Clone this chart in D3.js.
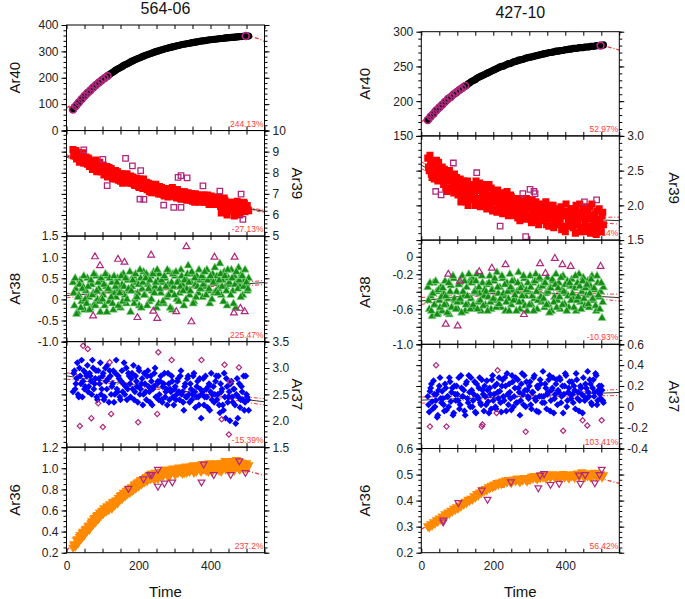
<!DOCTYPE html>
<html><head><meta charset="utf-8">
<script src="https://cdn.jsdelivr.net/npm/d3@7"></script>
<style>body{margin:0;background:#fff}svg{display:block}text{font-family:"Liberation Sans",Arial,Helvetica,sans-serif}</style>
</head><body><script>
// ---------- DATA ----------
const sampleNames = ["564-06", "427-10"];
const isotopes = ["Ar40", "Ar39", "Ar38", "Ar37", "Ar36"];
const timeTicks = [0, 200, 400];
const times = [18,22,26,30,34,38,42,46,50,54,
58,62,66,70,74,78,82,86,90,94,
98,102,106,110,114,118,122,126,130,134,
138,142,146,150,154,158,162,166,170,174,
178,182,186,190,194,198,202,206,210,214,
218,222,226,230,234,238,242,246,250,254,
258,262,266,270,274,278,282,286,290,294,
298,302,306,310,314,318,322,326,330,334,
338,342,346,350,354,358,362,366,370,374,
378,382,386,390,394,398,402,406,410,414,
418,422,426,430,434,438,442,446,450,454,
458,462,466,470,474,478,482,486,490,494,
498,502,506];
const times2 = [20,24,28,32,36,40,44,48,52,56,
60,64,68,72,76,80,84,88,92,96,
100,104,108,112,116,120,124,128,132,136,
140,144,148,152,156,160,164,168,172,176,
180,184,188,192,196,200,204,208,212,216,
220,224,228,232,236,240,244,248,252,256,
260,264,268,272,276,280,284,288,292,296,
300,304,308,312,316,320,324,328,332,336,
340,344,348,352,356,360,364,368,372,376,
380,384,388,392,396,400,404,408,412,416,
420,424,428,432,436,440,444,448,452,456,
460,464,468,472,476,480,484,488,492,496,
500,504];
const fitTimes = [0,50,100,150,200,250,300,350,400,450,500,550];

// 564-06
const L_Ar40 = [80,87,93,100,106,113,119,125,131,136,
142,147,152,158,163,168,173,177,182,186,
191,195,199,203,207,211,215,219,222,226,
230,233,236,239,242,246,249,251,254,257,
260,263,265,268,270,273,275,277,280,282,
284,286,288,290,292,294,296,298,300,301,
303,305,306,308,310,311,313,314,315,317,
318,319,321,322,323,325,326,327,328,329,
330,331,332,333,334,335,336,337,338,339,
340,340,341,342,343,344,344,345,346,346,
347,348,348,349,349,350,351,351,352,352,
353,353,354,354,355,355,356,356,357,357,
358,358,358];
const L_Ar40_outT = [18,26,34,42,50,58,66,74,82,90,98,106,114,498];
const L_Ar40_outV = [80,93,106,119,131,142,152,163,173,182,191,199,207,358];
const L_Ar40_fit = [85,134,190,238,273,299,318,333,344,352,358,338];

const L_Ar39 = [9.10,8.85,9.05,8.70,8.95,8.80,8.60,8.90,8.55,8.75,
8.40,8.65,8.30,8.55,8.20,8.45,8.60,8.10,8.35,8.25,
8.05,8.35,7.95,8.15,7.80,8.25,7.90,8.10,7.75,8.00,
7.70,8.05,7.85,7.60,7.95,7.75,7.90,7.55,7.80,7.65,
7.85,7.50,7.65,7.40,7.75,7.55,7.30,7.60,7.45,7.70,
7.25,7.55,7.35,7.10,7.45,7.20,7.40,7.05,7.30,7.15,
7.35,7.00,7.20,6.95,7.25,7.05,6.85,7.15,6.95,7.30,
6.90,7.15,6.80,7.05,6.95,6.75,7.10,6.85,7.00,6.70,
7.05,6.80,6.95,6.65,6.90,7.00,6.75,6.85,6.60,6.95,
6.70,6.95,6.60,6.85,6.75,6.55,6.90,6.65,6.80,6.50,
6.75,6.50,6.70,6.10,6.60,6.80,6.45,6.00,6.35,6.55,
6.60,6.30,5.95,6.20,6.65,6.40,6.05,6.45,6.25,6.55,
6.30,6.45,6.20];
const L_Ar39b = [8.80,9.00,8.65,8.90,8.50,8.75,8.95,8.45,8.70,8.50,
8.70,8.30,8.50,8.15,8.45,8.25,8.05,8.40,8.50,8.05,
8.25,7.90,8.10,8.30,7.85,8.00,8.20,7.70,7.95,8.10,
7.85,7.65,7.95,7.75,7.50,7.85,7.60,7.95,7.70,7.50,
7.60,7.80,7.45,7.65,7.50,7.35,7.70,7.55,7.25,7.50,
7.40,7.20,7.50,7.30,7.05,7.35,7.15,7.45,7.25,7.00,
7.10,7.30,7.05,6.90,7.15,7.25,6.95,7.05,7.20,6.90,
7.05,6.85,7.20,6.95,6.80,7.00,6.90,7.10,6.75,6.95,
6.85,6.70,7.00,6.90,6.60,6.80,6.95,6.70,6.90,6.75,
6.85,6.60,6.75,6.95,6.50,6.70,6.80,6.55,6.70,6.85,
6.55,6.85,6.40,6.65,6.30,6.70,6.50,6.20,6.60,6.45,
6.40,6.50,6.10,6.55,6.35,6.00,6.50,6.30,6.60,6.15,
6.40,6.25];
const L_Ar39_outT = [48,101,113,164,183,206,204,215,270,298,310,318,335,318,379,426,485,490];
const L_Ar39_outV = [9.08,8.63,7.39,8.68,8.33,8.10,6.75,6.74,6.47,6.36,7.78,7.86,7.76,6.36,7.38,7.13,6.99,5.79];
const L_Ar39_fit = [8.80,8.48,8.18,7.86,7.56,7.28,7.03,6.82,6.64,6.47,6.32,6.17];
const L_Ar39_band = [0.06,0.04,0.03,0.03,0.02,0.02,0.02,0.02,0.03,0.03,0.04,0.06];

const L_Ar38 = [0.40,-0.15,0.25,-0.30,0.10,0.45,-0.05,0.30,-0.25,0.20,
0.50,0.05,-0.20,0.35,0.15,-0.10,0.55,0.00,0.25,-0.30,
0.45,0.10,-0.15,0.30,0.55,-0.05,0.20,0.40,-0.25,0.15,
0.05,0.50,0.25,-0.20,0.35,0.60,0.10,-0.10,0.45,0.20,
-0.30,0.30,0.55,0.00,0.40,0.15,-0.15,0.50,0.25,0.65,
0.10,0.60,0.35,-0.05,0.55,0.20,0.65,0.30,-0.20,0.45,
0.60,0.15,0.40,-0.10,0.50,0.05,0.35,0.65,0.20,-0.25,
0.30,0.55,0.00,0.45,0.15,0.70,0.35,-0.15,0.50,0.25,
0.80,0.10,0.40,0.60,-0.05,0.35,0.55,0.15,0.45,0.25,
0.05,0.50,0.30,0.70,0.20,-0.10,0.45,0.60,0.15,0.40,
0.55,0.25,0.85,0.10,0.45,0.65,0.30,-0.15,0.50,0.35,
0.70,0.20,0.55,-0.20,0.40,0.75,0.30,0.60,0.10,0.45,
0.35,0.20,0.50];
const L_Ar38b = [0.15,0.50,-0.35,0.05,0.35,-0.20,0.25,0.55,0.00,-0.10,
0.30,-0.25,0.45,0.10,0.60,-0.15,0.20,0.40,-0.05,0.50,
0.00,0.35,0.60,-0.30,0.25,0.50,0.05,-0.10,0.55,0.30,
0.40,-0.15,0.15,0.55,-0.05,0.30,0.50,0.00,0.25,0.65,
0.20,0.45,-0.10,0.60,0.05,0.35,0.70,-0.20,0.40,0.10,
0.50,-0.15,0.25,0.45,0.00,0.60,0.15,0.40,0.70,-0.10,
0.25,0.45,-0.05,0.55,0.30,0.70,0.10,-0.20,0.40,0.60,
0.10,0.65,0.40,-0.05,0.30,0.55,0.20,0.45,0.00,0.60,
0.40,0.20,0.65,-0.10,0.50,0.05,0.30,0.70,0.25,0.55,
0.35,0.65,0.10,0.45,0.25,0.55,0.00,0.40,0.75,0.20,
0.15,0.45,0.60,0.30,-0.05,0.55,0.20,0.70,0.40,0.10,
0.50,-0.10,0.35,0.65,0.25,0.45,0.05,0.55,0.30,0.70,
0.40,0.25];
const L_Ar38_outT = [79,93,143,161,235,333,411,467,74,197,241,252,305,347,465,483,495];
const L_Ar38_outV = [1.01,0.80,0.95,0.88,1.05,1.25,1.00,1.00,-0.39,-0.43,-0.28,-0.45,-0.29,-0.53,-0.32,-0.21,-0.29];
const L_Ar38_fit = [0.09,0.12,0.15,0.18,0.20,0.23,0.26,0.29,0.32,0.35,0.37,0.40];
const L_Ar38_band = [0.05,0.04,0.03,0.02,0.02,0.02,0.02,0.02,0.02,0.03,0.04,0.05];

const L_Ar37 = [2.55,2.95,2.70,3.10,2.45,2.85,3.15,2.75,2.60,2.90,
3.05,2.65,2.85,2.50,3.00,2.70,2.95,2.40,2.80,3.10,
2.60,2.90,2.45,2.75,3.05,2.35,2.85,2.65,2.95,2.50,
3.15,2.55,2.80,2.40,2.95,2.70,2.50,3.00,2.60,2.85,
2.45,2.90,3.05,2.55,2.75,2.35,2.95,2.60,2.80,2.50,
2.70,2.40,2.95,2.55,2.85,2.30,2.65,3.00,2.45,2.75,
2.50,2.85,2.35,2.70,2.45,2.60,2.90,2.40,2.55,2.75,
2.30,2.65,2.50,2.80,2.40,2.95,2.55,2.20,2.70,2.45,
2.85,2.35,2.60,2.50,2.90,2.25,2.65,2.45,2.80,2.05,
2.55,2.30,2.85,2.45,2.65,2.20,2.90,2.50,2.35,2.75,
2.40,2.85,2.15,2.55,2.30,2.90,2.05,2.65,2.45,2.00,
2.75,2.35,2.60,1.95,2.80,2.45,2.25,2.65,2.40,2.20,
2.85,2.45,2.20];
const L_Ar37b = [2.90,2.60,2.80,2.50,3.00,2.70,2.45,2.95,2.65,2.85,
2.55,2.90,2.75,3.15,2.60,2.80,2.45,2.95,2.70,2.50,
2.85,2.40,3.00,2.60,2.80,2.95,2.50,2.70,2.35,2.90,
2.60,2.85,2.45,2.75,2.55,3.10,2.65,2.40,2.90,2.70,
2.80,2.60,2.40,2.85,2.65,3.00,2.50,2.70,2.30,2.90,
2.55,2.85,2.65,2.35,2.75,2.60,2.90,2.45,2.70,2.40,
2.75,2.40,2.65,2.90,2.55,2.30,2.70,2.60,2.85,2.45,
2.60,2.40,2.75,2.55,2.85,2.50,2.35,2.65,2.45,2.80,
2.50,2.70,2.40,2.85,2.55,2.45,2.75,2.30,2.60,2.50,
2.80,2.45,2.60,2.25,2.70,2.55,2.40,2.65,2.50,2.85,
2.50,2.30,2.70,2.60,2.20,2.45,2.80,2.35,2.55,2.70,
2.45,2.60,2.30,2.50,2.05,2.70,2.40,2.55,2.85,2.35,
2.50,2.40];
const L_Ar37_outT = [46,59,255,292,375,120,439,479,454,88,124,252,69,37,101,199,431,451];
const L_Ar37_outV = [3.42,3.36,3.30,3.15,3.15,3.11,3.06,3.01,2.74,2.33,2.13,2.13,2.05,1.90,1.88,1.97,2.03,1.74];
const L_Ar37_fit = [2.85,2.80,2.76,2.71,2.67,2.63,2.58,2.54,2.49,2.45,2.40,2.36];
const L_Ar37_band = [0.06,0.05,0.04,0.03,0.03,0.03,0.03,0.03,0.03,0.04,0.05,0.06];

const L_Ar36 = [0.25,0.28,0.27,0.33,0.31,0.37,0.34,0.40,0.37,0.43,
0.41,0.46,0.44,0.50,0.47,0.53,0.50,0.56,0.53,0.58,
0.60,0.57,0.62,0.59,0.64,0.61,0.66,0.62,0.68,0.65,
0.70,0.67,0.72,0.74,0.71,0.77,0.74,0.79,0.76,0.80,
0.78,0.82,0.80,0.85,0.82,0.87,0.84,0.89,0.86,0.90,
0.88,0.92,0.90,0.94,0.91,0.95,0.92,0.96,0.93,0.90,
0.96,0.93,0.97,0.94,0.98,0.95,0.92,0.97,0.95,0.99,
0.97,0.94,0.99,0.96,1.00,0.97,0.95,1.01,0.98,0.96,
1.00,0.97,1.02,0.99,0.96,1.02,0.98,1.03,1.00,0.97,
1.02,0.99,1.04,1.00,0.97,1.03,1.01,0.98,1.04,1.00,
0.99,1.04,1.01,0.97,1.05,1.02,0.99,1.06,1.03,1.00,
1.07,1.01,0.98,1.04,1.02,1.06,0.99,1.03,1.05,1.01,
1.04,1.00,1.03];
const L_Ar36b = [0.28,0.26,0.32,0.29,0.35,0.33,0.39,0.36,0.42,0.40,
0.45,0.42,0.48,0.46,0.52,0.49,0.55,0.52,0.58,0.55,
0.58,0.62,0.60,0.64,0.61,0.66,0.63,0.68,0.65,0.69,
0.68,0.72,0.70,0.75,0.72,0.76,0.74,0.78,0.80,0.77,
0.82,0.79,0.84,0.81,0.86,0.83,0.88,0.85,0.89,0.87,
0.91,0.88,0.93,0.90,0.95,0.92,0.89,0.94,0.91,0.96,
0.94,0.97,0.93,0.96,0.99,0.95,0.98,0.94,0.97,1.00,
0.95,0.99,0.96,1.01,0.97,1.00,0.98,0.96,1.02,0.99,
0.98,1.01,0.99,1.03,1.00,0.97,1.02,1.00,0.98,1.04,
1.00,1.03,0.98,1.02,1.05,1.00,0.97,1.03,1.01,1.05,
1.02,0.98,1.05,1.01,1.03,1.07,1.00,1.04,0.98,1.05,
1.02,1.05,1.00,1.08,1.03,0.99,1.06,1.02,1.04,1.00,
1.05,1.02];
const L_Ar36_outT = [172,214,232,237,254,254,272,294,375,381,409,456,480,497];
const L_Ar36_outV = [0.81,0.90,0.94,0.94,0.99,0.83,0.86,0.87,0.87,1.04,0.94,0.94,1.07,0.96];
const L_Ar36_fit = [0.22,0.40,0.56,0.70,0.81,0.89,0.95,0.985,1.0,0.995,0.975,0.93];

// 427-10
const R_Ar40 = [173,175,178,180,182,185,187,189,191,193,
195,197,199,201,203,205,206,208,210,211,
213,215,216,218,219,221,222,223,225,226,
228,229,230,231,233,234,235,236,237,238,
239,240,241,242,243,244,245,246,247,248,
249,250,250,251,252,253,254,254,255,256,
257,257,258,259,259,260,260,261,262,262,
263,263,264,264,265,265,266,266,267,267,
268,268,269,269,270,270,270,271,271,272,
272,272,273,273,273,274,274,274,275,275,
275,276,276,276,276,277,277,277,277,278,
278,278,278,279,279,279,279,280,280,280,
280,280,281];
const R_Ar40_outT = [18,26,34,42,50,58,66,74,82,90,98,106,114,122,498];
const R_Ar40_outV = [173,178,182,187,191,195,199,203,206,210,213,216,219,222,280];
const R_Ar40_fit = [170,191,213,231,245,256,264,271,276,279,279,273.5];

const R_Ar39 = [2.68,2.50,2.62,2.40,2.58,2.45,2.65,2.35,2.52,2.42,
2.55,2.30,2.45,2.20,2.38,2.50,2.25,2.40,2.18,2.33,
2.40,2.15,2.30,2.05,2.25,2.35,2.12,2.28,2.00,2.22,
2.30,2.08,2.20,2.00,2.25,2.10,2.32,2.02,2.18,2.05,
2.20,1.95,2.12,2.00,2.25,1.92,2.15,2.05,1.90,2.18,
1.95,2.15,1.88,2.08,1.98,2.20,1.85,2.02,2.12,1.90,
2.10,1.85,2.00,1.92,1.78,2.05,1.88,1.98,1.80,2.08,
1.85,2.00,1.75,1.95,1.82,2.05,1.90,1.72,1.98,1.85,
1.95,1.78,2.05,1.82,1.70,1.92,1.85,2.00,1.75,1.88,
1.72,1.95,1.80,1.65,1.90,1.85,2.02,1.70,1.88,1.78,
1.95,1.68,1.85,2.00,1.72,1.90,1.62,1.82,1.98,1.75,
1.65,1.92,1.80,1.60,2.02,1.70,1.88,1.58,1.78,1.95,
1.68,1.85,1.72];
const R_Ar39b = [2.55,2.72,2.45,2.60,2.38,2.55,2.48,2.62,2.42,2.50,
2.40,2.52,2.25,2.48,2.35,2.22,2.42,2.30,2.45,2.20,
2.28,2.18,2.38,2.10,2.32,2.20,2.05,2.35,2.15,2.25,
2.12,2.28,2.15,2.35,2.05,2.22,1.98,2.25,2.10,2.30,
2.05,2.15,2.30,1.98,2.10,2.20,1.95,2.08,2.22,2.00,
2.10,1.92,2.05,2.18,1.95,2.08,1.88,2.15,1.98,2.05,
1.92,2.05,1.82,2.10,1.95,1.85,2.02,1.90,2.10,1.84,
1.95,1.80,2.08,1.88,1.98,1.78,1.92,2.02,1.82,1.95,
1.85,1.98,1.72,1.90,2.00,1.80,1.95,1.68,1.90,1.82,
1.92,1.78,1.98,1.70,1.85,1.62,1.92,1.80,1.75,1.95,
1.80,1.90,1.60,1.78,1.88,2.02,1.68,1.85,1.62,1.92,
1.82,1.70,1.98,1.62,1.85,1.75,1.60,1.92,1.68,1.80,
1.62,1.90];
const R_Ar39_outT = [89,154,40,55,282,302,313,316,219,290,453,487];
const R_Ar39_outV = [2.61,2.47,2.20,2.15,2.17,2.23,2.20,2.17,1.70,1.55,2.05,2.08];
const R_Ar39_fit = [2.58,2.43,2.30,2.19,2.09,2.01,1.94,1.88,1.84,1.81,1.79,1.78];
const R_Ar39_band = [0.05,0.04,0.03,0.02,0.02,0.02,0.02,0.02,0.02,0.03,0.04,0.05];

const R_Ar38 = [-0.35,-0.60,-0.45,-0.68,-0.30,-0.55,-0.40,-0.65,-0.50,-0.35,
-0.62,-0.42,-0.28,-0.55,-0.48,-0.66,-0.33,-0.58,-0.25,-0.50,
-0.40,-0.60,-0.30,-0.52,-0.22,-0.45,-0.62,-0.35,-0.55,-0.28,
-0.48,-0.25,-0.58,-0.38,-0.20,-0.52,-0.42,-0.62,-0.30,-0.45,
-0.55,-0.32,-0.46,-0.22,-0.60,-0.38,-0.28,-0.50,-0.18,-0.42,
-0.35,-0.58,-0.25,-0.45,-0.62,-0.30,-0.48,-0.20,-0.55,-0.38,
-0.28,-0.50,-0.40,-0.18,-0.60,-0.33,-0.52,-0.25,-0.45,-0.62,
-0.40,-0.22,-0.55,-0.30,-0.48,-0.20,-0.60,-0.36,-0.26,-0.52,
-0.32,-0.58,-0.42,-0.24,-0.55,-0.35,-0.62,-0.28,-0.46,-0.20,
-0.50,-0.30,-0.60,-0.38,-0.22,-0.54,-0.42,-0.28,-0.58,-0.34,
-0.26,-0.48,-0.36,-0.62,-0.30,-0.20,-0.52,-0.40,-0.24,-0.56,
-0.44,-0.28,-0.58,-0.34,-0.22,-0.50,-0.38,-0.62,-0.30,-0.46,
-0.40,-0.70,-0.35];
const R_Ar38b = [-0.50,-0.30,-0.62,-0.42,-0.55,-0.28,-0.66,-0.38,-0.58,-0.46,
-0.36,-0.55,-0.45,-0.64,-0.30,-0.40,-0.58,-0.22,-0.48,-0.60,
-0.52,-0.32,-0.48,-0.64,-0.40,-0.28,-0.55,-0.45,-0.20,-0.60,
-0.30,-0.55,-0.40,-0.28,-0.60,-0.35,-0.50,-0.22,-0.56,-0.38,
-0.40,-0.62,-0.30,-0.52,-0.38,-0.48,-0.25,-0.58,-0.35,-0.54,
-0.48,-0.22,-0.42,-0.32,-0.52,-0.40,-0.62,-0.35,-0.28,-0.50,
-0.44,-0.62,-0.30,-0.52,-0.36,-0.45,-0.22,-0.56,-0.38,-0.30,
-0.55,-0.35,-0.45,-0.62,-0.28,-0.40,-0.50,-0.24,-0.46,-0.34,
-0.48,-0.30,-0.55,-0.40,-0.64,-0.36,-0.26,-0.52,-0.32,-0.58,
-0.36,-0.46,-0.24,-0.55,-0.40,-0.32,-0.62,-0.45,-0.30,-0.50,
-0.42,-0.58,-0.22,-0.50,-0.46,-0.34,-0.60,-0.28,-0.48,-0.36,
-0.32,-0.54,-0.42,-0.26,-0.48,-0.36,-0.56,-0.22,-0.44,-0.60,
-0.30,-0.52];
const R_Ar38_outT = [75,107,161,196,234,330,345,371,392,415,498,68,101,285];
const R_Ar38_outV = [-0.20,-0.28,-0.17,-0.13,-0.09,-0.08,-0.19,-0.02,-0.09,-0.11,-0.11,-0.77,-0.79,-0.66];
const R_Ar38_fit = [-0.505,-0.48,-0.455,-0.435,-0.42,-0.41,-0.41,-0.415,-0.425,-0.44,-0.455,-0.467];
const R_Ar38_band = [0.04,0.03,0.025,0.02,0.015,0.015,0.015,0.015,0.02,0.025,0.03,0.04];

const R_Ar37 = [0.10,-0.05,0.18,0.05,0.25,0.00,0.12,-0.08,0.20,0.08,
0.15,0.02,0.22,-0.03,0.10,0.28,0.05,0.18,-0.06,0.12,
0.20,0.06,-0.02,0.30,0.10,0.16,-0.08,0.24,0.04,0.14,
0.28,0.00,0.12,-0.05,0.22,0.08,0.28,0.02,0.16,-0.04,
0.10,0.25,0.05,0.18,-0.02,0.30,0.12,0.00,0.22,0.08,
0.15,-0.05,0.26,0.06,0.20,0.32,0.02,0.14,-0.03,0.24,
0.10,0.28,0.04,0.18,-0.08,0.22,0.12,0.30,0.00,0.16,
0.08,0.24,-0.02,0.14,0.30,0.06,0.20,-0.05,0.26,0.10,
0.34,0.04,0.18,0.12,0.26,-0.04,0.16,0.28,0.08,0.22,
0.02,0.14,0.26,0.10,-0.06,0.20,0.30,0.06,0.18,0.12,
0.24,0.04,0.16,0.32,0.08,-0.04,0.20,0.12,0.28,0.06,
0.18,0.34,0.10,0.22,0.02,0.26,0.14,0.30,0.06,0.20,
0.08,0.16,0.04];
const R_Ar37b = [0.02,0.15,0.22,-0.02,0.12,0.06,-0.10,0.16,0.28,0.04,
0.08,-0.04,0.18,0.10,0.00,0.24,0.14,-0.08,0.20,0.06,
0.12,0.28,0.02,0.18,0.10,-0.04,0.22,0.08,0.30,0.00,
0.16,0.06,0.24,-0.06,0.10,0.18,0.04,0.26,0.12,0.20,
0.02,0.16,-0.06,0.12,0.26,0.06,0.20,-0.02,0.14,0.28,
0.04,0.20,0.10,0.28,-0.04,0.12,0.22,0.08,0.30,0.00,
0.18,0.04,0.26,0.14,0.06,0.32,0.02,0.16,0.24,0.10,
0.20,0.02,0.14,0.28,0.08,-0.04,0.18,0.10,0.22,0.04,
0.10,0.22,-0.02,0.14,0.30,0.06,0.18,-0.06,0.12,0.26,
0.16,0.28,0.04,0.20,0.12,0.32,0.00,0.14,0.24,0.08,
0.12,0.20,-0.02,0.26,0.14,0.06,0.18,-0.06,0.10,0.22,
0.08,0.14,0.26,0.04,0.18,0.10,0.32,0.02,0.16,0.12,
0.20,0.06];
const R_Ar37_outT = [41,212,209,24,70,168,170,290,394,448,461,501];
const R_Ar37_outV = [0.40,0.35,-0.06,-0.19,-0.19,-0.19,-0.17,-0.24,-0.23,-0.13,-0.18,-0.13];
const R_Ar37_fit = [0.064,0.071,0.078,0.084,0.091,0.098,0.104,0.111,0.118,0.124,0.131,0.138];
const R_Ar37_band = [0.03,0.025,0.02,0.015,0.015,0.012,0.012,0.015,0.015,0.02,0.025,0.03];

const R_Ar36 = [0.302,0.298,0.310,0.305,0.318,0.312,0.325,0.320,0.332,0.328,
0.340,0.335,0.348,0.343,0.355,0.350,0.362,0.358,0.370,0.365,
0.375,0.370,0.382,0.378,0.390,0.385,0.396,0.392,0.404,0.400,
0.408,0.404,0.418,0.412,0.426,0.420,0.432,0.428,0.442,0.436,
0.445,0.440,0.452,0.448,0.458,0.452,0.463,0.458,0.468,0.462,
0.470,0.465,0.474,0.468,0.478,0.472,0.480,0.474,0.468,0.478,
0.482,0.475,0.486,0.478,0.472,0.484,0.478,0.488,0.480,0.474,
0.486,0.480,0.492,0.485,0.495,0.488,0.482,0.494,0.487,0.498,
0.490,0.497,0.485,0.494,0.500,0.488,0.496,0.502,0.490,0.498,
0.492,0.500,0.488,0.496,0.503,0.490,0.498,0.494,0.486,0.500,
0.494,0.502,0.488,0.498,0.505,0.492,0.500,0.510,0.495,0.490,
0.502,0.494,0.506,0.490,0.500,0.496,0.508,0.492,0.500,0.495,
0.502,0.490,0.498];
const R_Ar36_outT = [61,61,103,168,184,249,325,330,341,359,383,438,442,455,482,501,495];
const R_Ar36_outV = [0.325,0.318,0.392,0.44,0.405,0.472,0.449,0.498,0.504,0.462,0.466,0.498,0.466,0.50,0.468,0.52,0.50];
const R_Ar36_fit = [0.29,0.33,0.37,0.41,0.44,0.46,0.475,0.485,0.49,0.49,0.483,0.466];

// axis tick labels
const L_Ar40_ticks = [0,100,200,300,400];
const L_Ar39_ticks = [5,6,7,8,9,10];
const L_Ar38_ticks = [-1,-0.5,0,0.5,1,1.5];
const L_Ar37_ticks = [1.5,2,2.5,3,3.5];
const L_Ar36_ticks = [0.2,0.4,0.6,0.8,1.0,1.2];
const R_Ar40_ticks = [150,200,250,300];
const R_Ar39_ticks = [1.5,2,2.5,3];
const R_Ar38_ticks = [-1,-0.8,-0.6,-0.4,-0.2,0];
const R_Ar38_labels = [-1,-0.6,-0.2,0];
const R_Ar37_ticks = [-0.4,-0.2,0,0.2,0.4,0.6];
const R_Ar36_ticks = [0.2,0.3,0.4,0.5,0.6];
const L_pct = ["244.13%","-27.13%","225.47%","-15.39%","237.2%"];
const R_pct = ["52.97%","-32.14%","-10.93%","103.41%","56.42%"];

// ---------- STYLE ----------
const W = 685, H = 599;
const MAG = "#b0287e", FITRED = "#f23a3a";
const styles = {
  Ar40: {main:{type:d3.symbolCircle,size:40,rot:0,fill:"#000"}, out:{type:d3.symbolCircle,size:36,rot:0,fill:"none",stroke:MAG,sw:1.7}, black:false},
  Ar39: {main:{type:d3.symbolSquare,size:50,rot:0,fill:"#ff0000"}, out:{type:d3.symbolSquare,size:30,rot:0,fill:"none",stroke:MAG,sw:1.3}, black:true},
  Ar38: {main:{type:d3.symbolTriangle,size:29,rot:0,fill:"#168c16",stroke:"#8ad88a",sw:0.7}, out:{type:d3.symbolTriangle,size:20,rot:0,fill:"none",stroke:MAG,sw:1.2}, black:true},
  Ar37: {main:{type:d3.symbolSquare,size:24,rot:45,fill:"#0000ff"}, out:{type:d3.symbolSquare,size:14,rot:45,fill:"none",stroke:MAG,sw:1.2}, black:true},
  Ar36: {main:{type:d3.symbolTriangle,size:40,rot:180,fill:"#ff8a00"}, out:{type:d3.symbolTriangle,size:20,rot:180,fill:"none",stroke:MAG,sw:1.2}, black:false}
};

function mk(name, vals, vals2, outT, outV, fit, band, domain, ticks, labels, minor, side, fmt, pct) {
  return {name, vals, vals2, outT, outV, fit, band, domain, ticks, labels: labels || ticks, minor, side, fmt, pct};
}
const columns = [
  {name: sampleNames[0], x0: 66.5, x1: 264.5, top: 25, bottom: 552.7, titleY: 14, leftTitleX: 15, rightTitleX: 297,
   panels: [
    mk("Ar40", L_Ar40, null, L_Ar40_outT, L_Ar40_outV, L_Ar40_fit, null, [0,400], L_Ar40_ticks, null, 20, "left", "d", L_pct[0]),
    mk("Ar39", L_Ar39, L_Ar39b, L_Ar39_outT, L_Ar39_outV, L_Ar39_fit, L_Ar39_band, [5,10], L_Ar39_ticks, null, 0.2, "right", "d", L_pct[1]),
    mk("Ar38", L_Ar38, L_Ar38b, L_Ar38_outT, L_Ar38_outV, L_Ar38_fit, L_Ar38_band, [-1,1.5], L_Ar38_ticks, null, 0.1, "left", ".1f", L_pct[2]),
    mk("Ar37", L_Ar37, L_Ar37b, L_Ar37_outT, L_Ar37_outV, L_Ar37_fit, L_Ar37_band, [1.5,3.5], L_Ar37_ticks, null, 0.1, "right", ".1f", L_pct[3]),
    mk("Ar36", L_Ar36, L_Ar36b, L_Ar36_outT, L_Ar36_outV, L_Ar36_fit, null, [0.2,1.2], L_Ar36_ticks, null, 0.05, "left", ".1f", L_pct[4])
   ]},
  {name: sampleNames[1], x0: 421.3, x1: 619.3, top: 31.7, bottom: 552.7, titleY: 18, leftTitleX: 365, rightTitleX: 674,
   panels: [
    mk("Ar40", R_Ar40, null, R_Ar40_outT, R_Ar40_outV, R_Ar40_fit, null, [150,300], R_Ar40_ticks, null, 10, "left", "d", R_pct[0]),
    mk("Ar39", R_Ar39, R_Ar39b, R_Ar39_outT, R_Ar39_outV, R_Ar39_fit, R_Ar39_band, [1.5,3.0], R_Ar39_ticks, null, 0.1, "right", ".1f", R_pct[1]),
    mk("Ar38", R_Ar38, R_Ar38b, R_Ar38_outT, R_Ar38_outV, R_Ar38_fit, R_Ar38_band, [-1.0,0.19], R_Ar38_ticks, R_Ar38_labels, 0.05, "left", ".1f", R_pct[2]),
    mk("Ar37", R_Ar37, R_Ar37b, R_Ar37_outT, R_Ar37_outV, R_Ar37_fit, R_Ar37_band, [-0.4,0.6], R_Ar37_ticks, null, 0.05, "right", ".1f", R_pct[3]),
    mk("Ar36", R_Ar36, null, R_Ar36_outT, R_Ar36_outV, R_Ar36_fit, null, [0.2,0.6], R_Ar36_ticks, null, 0.02, "left", ".1f", R_pct[4])
   ]}
];

// ---------- DRAW ----------
const svg = d3.select("body").append("svg").attr("width", W).attr("height", H);
svg.append("rect").attr("width", W).attr("height", H).attr("fill", "#fff");

function fmtFactory(spec) {
  const f = d3.format(spec);
  return v => Math.abs(v) < 1e-9 ? "0" : f(v).replace("\u2212", "-");
}
function drawMarks(g, ts, vs, x, y, st) {
  const path = d3.symbol().type(st.type).size(st.size)();
  g.append("g").selectAll("path").data(vs.map((v, k) => [ts[k], v])).join("path")
    .attr("d", path)
    .attr("transform", d => `translate(${x(d[0])},${y(d[1])}) rotate(${st.rot})`)
    .attr("fill", st.fill).attr("stroke", st.stroke || "none").attr("stroke-width", st.sw || 0);
}
function styleAxis(sel) {
  sel.select(".domain").remove();
  sel.selectAll("line").attr("stroke", "#000").attr("stroke-width", 1);
  sel.selectAll("text").attr("font-size", 12).attr("fill", "#222")
    .attr("font-family", '"Liberation Sans", Arial, Helvetica, sans-serif');
}

columns.forEach((col, ci) => {
  const x = d3.scaleLinear().domain([0, 550]).range([col.x0, col.x1]);
  const ph = (col.bottom - col.top) / 5;
  svg.append("text").attr("x", (col.x0 + col.x1) / 2).attr("y", col.titleY)
    .attr("text-anchor", "middle").attr("font-size", 16).attr("fill", "#111").text(col.name);

  col.panels.forEach((p, i) => {
    const yt = col.top + i * ph, yb = yt + ph;
    const y = d3.scaleLinear().domain(p.domain).range([yb, yt]);
    const st = styles[p.name];
    const g = svg.append("g");
    const clipId = `clip${ci}_${i}`;
    svg.append("clipPath").attr("id", clipId).append("rect")
      .attr("x", col.x0).attr("y", yt).attr("width", col.x1 - col.x0).attr("height", ph);

    g.append("text").attr("x", col.x1 - 1).attr("y", yb - 4).attr("text-anchor", "end")
      .attr("font-size", 8.5).attr("fill", "#ff3c3c").text(p.pct);

    const cg = g.append("g").attr("clip-path", `url(#${clipId})`);
    const line = d3.line().x(d => x(d[0])).y(d => y(d[1])).curve(d3.curveMonotoneX);
    const fitPts = fitTimes.map((t, k) => [t, p.fit[k]]);
    if (st.black) {
      cg.append("path").attr("d", line(fitPts)).attr("fill", "none").attr("stroke", "#333").attr("stroke-width", 1);
    }
    if (p.band) {
      [1, -1].forEach(sgn => {
        cg.append("path").attr("d", line(fitTimes.map((t, k) => [t, p.fit[k] + sgn * p.band[k]])))
          .attr("fill", "none").attr("stroke", FITRED).attr("stroke-width", 1).attr("stroke-dasharray", "4,2,1,2");
      });
    } else {
      cg.append("path").attr("d", line(fitPts)).attr("fill", "none").attr("stroke", FITRED)
        .attr("stroke-width", 1.3).attr("stroke-dasharray", "4,2,1,2");
    }

    drawMarks(cg, times, p.vals, x, y, st.main);
    if (p.vals2) drawMarks(cg, times2, p.vals2, x, y, st.main);
    drawMarks(cg, p.outT, p.outV, x, y, st.out);

    g.append("rect").attr("x", col.x0).attr("y", yt).attr("width", col.x1 - col.x0).attr("height", ph)
      .attr("fill", "none").attr("stroke", "#000").attr("stroke-width", 1);

    const fmt = fmtFactory(p.fmt);
    const labelSet = p.labels.map(v => +v.toFixed(6));
    const n0 = Math.round(p.domain[0] / p.minor), n1 = Math.floor(p.domain[1] / p.minor + 1e-6);
    const minors = d3.range(n0, n1 + 1).map(k => +(k * p.minor).toFixed(6));
    const mkAx = s => s === "left" ? d3.axisLeft(y) : d3.axisRight(y);
    const other = p.side === "left" ? "right" : "left";
    const labX = p.side === "left" ? col.x0 : col.x1;
    const othX = p.side === "left" ? col.x1 : col.x0;
    g.append("g").attr("transform", `translate(${labX},0)`)
      .call(mkAx(p.side).tickValues(p.ticks).tickSize(5).tickPadding(3)
        .tickFormat(v => labelSet.includes(+v.toFixed(6)) ? fmt(v) : ""))
      .call(styleAxis);
    g.append("g").attr("transform", `translate(${labX},0)`)
      .call(mkAx(p.side).tickValues(minors).tickSize(3).tickFormat("")).call(styleAxis);
    g.append("g").attr("transform", `translate(${othX},0)`)
      .call(mkAx(other).tickValues(p.ticks).tickSize(5).tickFormat("")).call(styleAxis);
    g.append("g").attr("transform", `translate(${othX},0)`)
      .call(mkAx(other).tickValues(minors).tickSize(3).tickFormat("")).call(styleAxis);

    const xt = d3.range(0, 551, 50);
    g.append("g").attr("transform", `translate(0,${yb})`)
      .call(d3.axisBottom(x).tickValues(xt).tickSize(-4).tickFormat("")).call(styleAxis);
    g.append("g").attr("transform", `translate(0,${yt})`)
      .call(d3.axisTop(x).tickValues(xt).tickSize(-4).tickFormat("")).call(styleAxis);

    const ym = (yt + yb) / 2;
    const tx = p.side === "left" ? col.leftTitleX : col.rightTitleX;
    svg.append("text").attr("transform", `translate(${tx},${ym}) rotate(${p.side === "left" ? -90 : 90})`)
      .attr("text-anchor", "middle").attr("dy", "0.35em").attr("font-size", 15).attr("fill", "#111").text(p.name);

    if (i === 4) {
      g.append("g").attr("transform", `translate(0,${yb})`)
        .call(d3.axisBottom(x).tickValues(timeTicks).tickSize(0).tickPadding(9).tickFormat(d3.format("d")))
        .call(styleAxis);
      svg.append("text").attr("x", (col.x0 + col.x1) / 2).attr("y", 597).attr("text-anchor", "middle")
        .attr("font-size", 15).attr("fill", "#111").text("Time");
    }
  });
});
</script></body></html>
